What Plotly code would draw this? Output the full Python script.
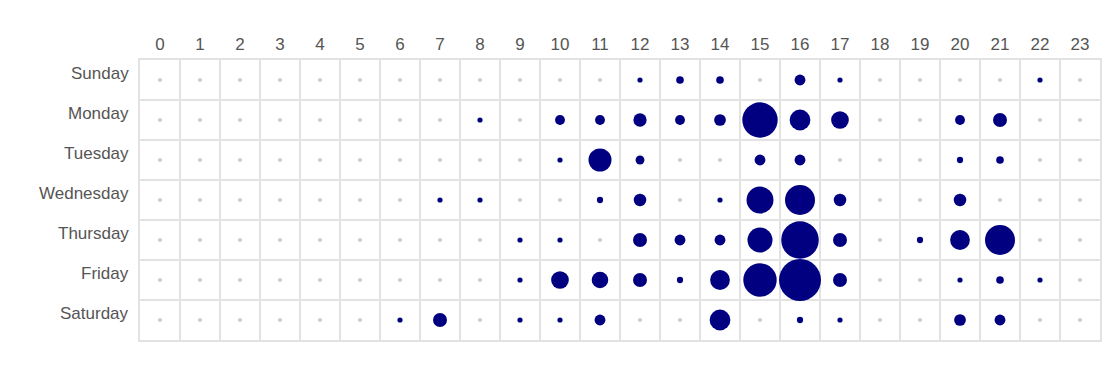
import numpy as np
import plotly.graph_objects as go

days = ["Sunday", "Monday", "Tuesday", "Wednesday", "Thursday", "Friday", "Saturday"]
hours = list(range(24))

#            0  1  2  3  4  5  6  7  8  9 10 11 12 13 14 15 16 17 18 19 20 21 22 23
sunday    = [0, 0, 0, 0, 0, 0, 0, 0, 0, 0, 0, 0, 1, 3, 3, 0, 6, 1, 0, 0, 0, 0, 1, 0]
monday    = [0, 0, 0, 0, 0, 0, 0, 0, 1, 0, 5, 5, 9, 5, 7, 64, 22, 16, 0, 0, 5, 10, 0, 0]
tuesday   = [0, 0, 0, 0, 0, 0, 0, 0, 0, 0, 1, 27, 4, 0, 0, 6, 6, 0, 0, 0, 2, 3, 0, 0]
wednesday = [0, 0, 0, 0, 0, 0, 0, 1, 1, 0, 0, 2, 8, 0, 1, 37, 46, 8, 0, 0, 8, 0, 0, 0]
thursday  = [0, 0, 0, 0, 0, 0, 0, 0, 0, 1, 1, 0, 10, 6, 6, 32, 72, 10, 0, 2, 20, 46, 0, 0]
friday    = [0, 0, 0, 0, 0, 0, 0, 0, 0, 1, 16, 14, 10, 2, 20, 57, 90, 10, 0, 0, 1, 3, 1, 0]
saturday  = [0, 0, 0, 0, 0, 0, 1, 10, 0, 1, 1, 6, 0, 0, 22, 0, 2, 1, 0, 0, 7, 6, 0, 0]

counts = [sunday, monday, tuesday, wednesday, thursday, friday, saturday]

FONT = "Liberation Sans, Arial, Helvetica, sans-serif"
TEXT = "#555555"
GRID = "#e2e2e2"
NAVY = "#000080"
MAX_D = 42.0
MIN_D = 5.2

xs_nz, ys_nz, c_nz = [], [], []
xs_z, ys_z = [], []
for di, row in enumerate(counts):
    for h, c in zip(hours, row):
        if c > 0:
            xs_nz.append(h); ys_nz.append(di); c_nz.append(c)
        else:
            xs_z.append(h); ys_z.append(di)

c_nz = np.array(c_nz, dtype=float)
cmax = max(max(r) for r in counts)
diam = np.maximum(MAX_D * np.sqrt(c_nz / cmax), MIN_D)

fig = go.Figure()
fig.add_trace(go.Scatter(
    x=xs_z, y=ys_z, mode="markers",
    marker=dict(size=4, color="#cccccc", line=dict(width=0)),
    hoverinfo="skip", showlegend=False))
fig.add_trace(go.Scatter(
    x=xs_nz, y=ys_nz, mode="markers",
    marker=dict(size=diam, sizemode="diameter", color=NAVY, opacity=1, line=dict(width=0)),
    customdata=c_nz, hovertemplate="%{customdata}<extra></extra>", showlegend=False))

bounds_x = [h - 0.5 for h in hours] + [hours[-1] + 0.5]
bounds_y = [i - 0.5 for i in range(len(days))] + [len(days) - 0.5]

fig.update_xaxes(
    range=[-0.5, 23.5], side="top", tickmode="array", tickvals=hours,
    ticktext=[str(h) for h in hours], showgrid=False, zeroline=False,
    ticks="", ticklabelstandoff=1,
    tickfont=dict(family=FONT, size=17, color=TEXT),
    showline=True, mirror=True, linecolor=GRID, linewidth=2,
    minor=dict(tickmode="array", tickvals=bounds_x, showgrid=True, gridcolor=GRID, gridwidth=2, ticks=""),
    fixedrange=True)
fig.update_yaxes(
    range=[len(days) - 0.5, -0.5], tickmode="array", tickvals=list(range(len(days))),
    ticktext=["" for _ in days], showgrid=False, zeroline=False, ticks="",
    showline=True, mirror=True, linecolor=GRID, linewidth=2,
    minor=dict(tickmode="array", tickvals=bounds_y, showgrid=True, gridcolor=GRID, gridwidth=2, ticks=""),
    fixedrange=True)

for i, d in enumerate(days):
    fig.add_annotation(
        x=0, xref="paper", xanchor="right", xshift=-9,
        y=i, yref="y", yshift=7, yanchor="middle",
        text=d, showarrow=False,
        font=dict(family=FONT, size=17, color=TEXT))

fig.update_layout(
    width=1120, height=370,
    margin=dict(l=140, r=20, t=60, b=30),
    paper_bgcolor="white", plot_bgcolor="white",
    font=dict(family=FONT, size=17, color=TEXT),
)

fig.write_html("out.html")
